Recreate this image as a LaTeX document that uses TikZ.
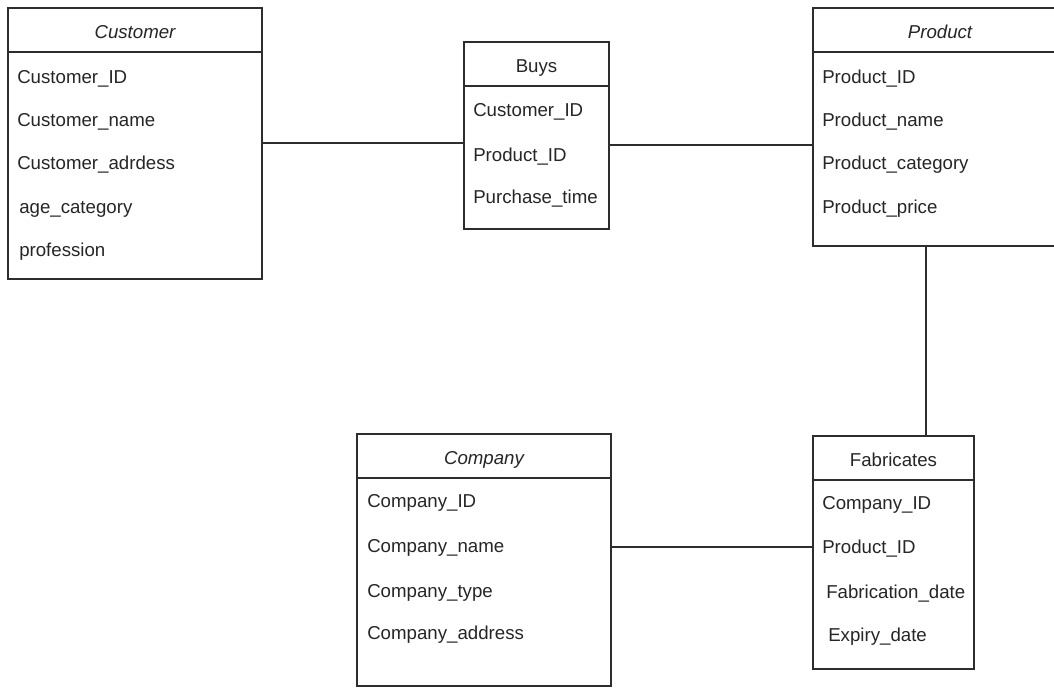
\documentclass[tikz,border=0pt]{standalone}
\usepackage{fontspec}
\setmainfont{Liberation Sans}
\usetikzlibrary{calc}
\definecolor{ERLine}{RGB}{45,45,45}
\def\ERText{black!85}

\begin{document}
\begin{tikzpicture}
    [x=0.75pt,y=-0.75pt,
    ent/.style={rectangle,draw=ERLine,line width=1pt,fill=white,inner sep=0pt},
    head/.style={rectangle,draw=ERLine,line width=1pt,minimum height=33pt,inner sep=0pt,text height=13pt,text depth=0pt,text=\ERText,font=\fontsize{14}{16}\selectfont},
    attr/.style={anchor=west,inner sep=0pt,yshift=-1.5pt,text=\ERText,font=\fontsize{14}{16}\selectfont},
    link/.style={draw=ERLine,line width=1pt},
    ]
    \path[use as bounding box,clip] (0,0) rectangle (1054,687);
    % entities and relations
    \node[ent, minimum width=190.5pt, minimum height=203.25pt] (cust) at (135,143.5) {};
    \node[ent, minimum width=108.75pt, minimum height=140.25pt] (buys) at (536.5,135.5) {};
    \node[ent, minimum width=190.5pt, minimum height=178.5pt] (prod) at (940,127) {};
    \node[ent, minimum width=190.5pt, minimum height=189pt] (comp) at (484,560) {};
    \node[ent, minimum width=120.75pt, minimum height=174.75pt] (fab) at (893.5,552.5) {};
    % headers
    \node[head, minimum width=190.5pt, anchor=north] (custh) at (cust.north) {\itshape Customer};
    \node[head, minimum width=108.75pt, anchor=north] (buysh) at (buys.north) {Buys};
    \node[head, minimum width=190.5pt, anchor=north] (prodh) at (prod.north) {\itshape Product};
    \node[head, minimum width=190.5pt, anchor=north] (comph) at (comp.north) {\itshape Company};
    \node[head, minimum width=120.75pt, anchor=north] (fabh) at (fab.north) {Fabricates};
    % attributes
    \node[attr] (cid) at (17,77) {Customer\_ID};
    \node[attr] (cname) at (17,120) {Customer\_name};
    \node[attr] (cadr) at (17,163) {Customer\_adrdess};
    \node[attr] (cage) at (19,207) {age\_category};
    \node[attr] (cprof) at (19,250) {profession};
    \node[attr] (bcid) at (473,110) {Customer\_ID};
    \node[attr] (bpid) at (473,155) {Product\_ID};
    \node[attr] (btime) at (473,197) {Purchase\_time};
    \node[attr] (pid) at (822,77) {Product\_ID};
    \node[attr] (pname) at (822,120) {Product\_name};
    \node[attr] (pcat) at (822,163) {Product\_category};
    \node[attr] (pprice) at (822,207) {Product\_price};
    \node[attr] (coid) at (367,501) {Company\_ID};
    \node[attr] (coname) at (367,546) {Company\_name};
    \node[attr] (cotype) at (367,591) {Company\_type};
    \node[attr] (coadr) at (367,633) {Company\_address};
    \node[attr] (fcid) at (822,503) {Company\_ID};
    \node[attr] (fpid) at (822,547) {Product\_ID};
    \node[attr] (fdate) at (826,592) {Fabrication\_date};
    \node[attr] (fexp) at (828,635) {Expiry\_date};
    % connectors
    \coordinate (bl) at ($(buys.north west)!.54!(buys.south west)$);
    \coordinate (br) at ($(buys.north east)!.55!(buys.south east)$);
    \coordinate (fl) at ($(fab.north west)!.476!(fab.south west)$);
    \coordinate (ft) at ($(fab.north west)!.70!(fab.north east)$);
    \path[link] (cust.east |- bl) -- (bl)
    (br) -- (br -| prod.west)
    (prod.south -| ft) -- (ft)
    (comp.east |- fl) -- (fl);
\end{tikzpicture}
\end{document}
